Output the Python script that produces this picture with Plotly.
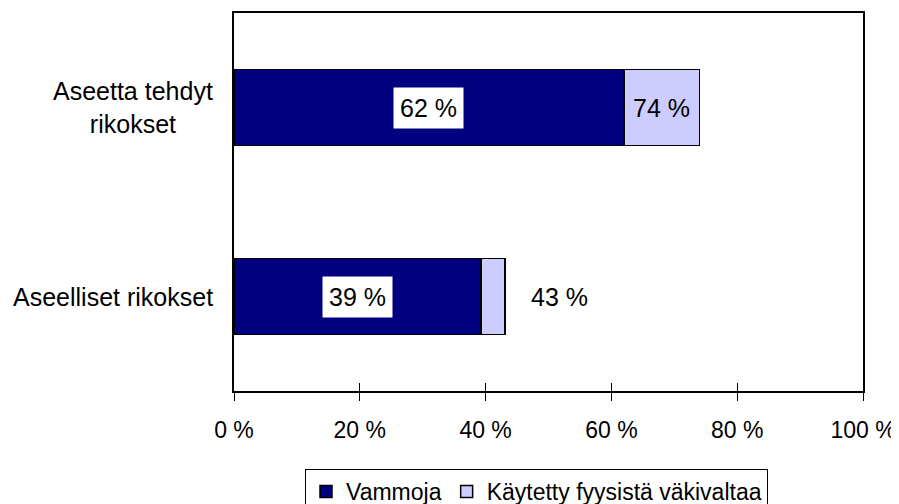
import plotly.graph_objects as go

# -- DATA --
categories = ["Aseelliset rikokset", "Aseetta tehdyt<br>rikokset"]
vammoja = [39.3, 62.0]
vakivalta_extra = [3.8, 12.0]
vammoja_labels = ["39 %", "62 %"]
total_labels = ["43 %", "74 %"]
x_ticks = [0, 20, 40, 60, 80, 100]
x_tick_labels = ["0 %", "20 %", "40 %", "60 %", "80 %", "100 %"]

DARK = "#000080"
LIGHT = "#CCCCFF"
FAMILY = "Liberation Sans, Arial, sans-serif"

# the page body has an 8px margin, so the layout is shifted up/left by that
PAGE_OFFSET = 8


def f(size):
    return dict(family=FAMILY, size=size, color="black")


fig = go.Figure()

fig.add_trace(go.Bar(
    y=categories,
    x=vammoja,
    orientation="h",
    name="Vammoja",
    marker=dict(color=DARK, line=dict(color="black", width=1.5)),
))
fig.add_trace(go.Bar(
    y=categories,
    x=vakivalta_extra,
    orientation="h",
    name="Käytetty fyysistä väkivaltaa",
    marker=dict(color=LIGHT, line=dict(color="black", width=1.5)),
))

# labels inside the dark segment (white boxes)
for cat, v, lab in zip(categories, vammoja, vammoja_labels):
    fig.add_annotation(
        x=v / 2, y=cat, text=lab, showarrow=False,
        font=f(25), bgcolor="white", borderpad=6,
    )

# total labels: inside the light segment when it's wide enough, else just after it
for cat, v, e, lab in zip(categories, vammoja, vakivalta_extra, total_labels):
    xpos = v + e / 2 if e > 8 else v + e + 8.7
    fig.add_annotation(x=xpos, y=cat, text=lab, showarrow=False, font=f(25))

# category labels (centred lines, right edge ~21px left of the plot)
for cat in categories:
    fig.add_annotation(
        x=-0.031, xref="paper", xanchor="right", y=cat, text=cat,
        showarrow=False, font=f(25), align="center",
    )

# invisible trace for the overlay axis (tick marks crossing the axis line)
fig.add_trace(go.Scatter(x=[0, 100], y=categories, xaxis="x2", mode="markers",
                         marker=dict(opacity=0), showlegend=False, hoverinfo="skip"))

fig.update_layout(
    barmode="stack",
    bargap=0.6,
    width=899,
    height=504,
    margin=dict(l=234 - PAGE_OFFSET, r=36 + PAGE_OFFSET,
                t=13 - PAGE_OFFSET, b=113 + PAGE_OFFSET),
    paper_bgcolor="white",
    plot_bgcolor="white",
    font=f(23),
    legend=dict(
        orientation="h",
        xref="container", yref="container",
        x=(305 - PAGE_OFFSET) / 899, xanchor="left",
        y=1 - (469 - PAGE_OFFSET) / 504, yanchor="top",
        bordercolor="black", borderwidth=1,
        font=f(23),
        traceorder="normal",
        itemwidth=30,
    ),
    xaxis=dict(
        range=[0, 100],
        tickvals=x_ticks,
        ticktext=x_tick_labels,
        tickfont=f(23),
        ticks="outside", ticklen=8, tickcolor="black", tickwidth=1,
        showline=True, linecolor="black", linewidth=2, mirror=True,
        showgrid=False, zeroline=False,
        automargin=False,
        ticklabelstandoff=9,
    ),
    xaxis2=dict(
        range=[0, 100], overlaying="x", side="bottom",
        tickvals=x_ticks, ticks="inside", ticklen=8, tickcolor="black",
        showticklabels=False, showgrid=False, zeroline=False, showline=False,
        automargin=False,
    ),
    yaxis=dict(
        showticklabels=False, ticks="",
        showline=True, linecolor="black", linewidth=2, mirror=True,
        showgrid=False, zeroline=False,
        automargin=False,
    ),
    showlegend=True,
)

fig.write_html("out.html")
